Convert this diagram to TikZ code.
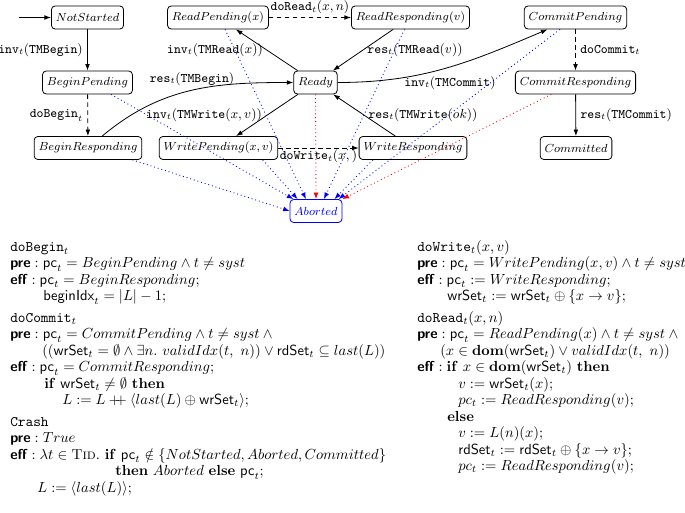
\documentclass[tikz,border=0pt]{standalone}
\usepackage{amsmath,amssymb}
\usetikzlibrary{arrows.meta,calc}
\newcommand{\kwpre}{\textsf{\textbf{pre}}}
\newcommand{\kweff}{\textsf{\textbf{eff}}}
\begin{document}
\begin{tikzpicture}[x=0.685pt,y=-0.685pt,
 st/.style={draw, rounded corners=2.5pt, line width=0.55pt, inner xsep=3pt, inner ysep=0pt, minimum height=15.75pt, font=\fontsize{8.35}{10}\selectfont},
 lab/.style={inner sep=1pt, font=\fontsize{9.1}{11}\selectfont},
 tr/.style={draw, line width=0.55pt, -{Latex[length=4.5pt,width=3.2pt]}},
 dtr/.style={tr, dash pattern=on 3pt off 2.5pt},
 blueab/.style={draw=blue, dotted, line width=0.6pt, -{Latex[length=4.5pt,width=3.4pt]}},
 redab/.style={blueab, draw=red},
 code/.style={anchor=base west, inner sep=0pt, font=\fontsize{9.85}{12}\selectfont}]
\useasboundingbox (0,0) rectangle (685,513);
% states
\node[st] (ns) at (87.5,17.5) {$NotStarted$};
\node[st] (bp) at (87.5,82.5) {$BeginPending$};
\node[st] (br) at (88,148) {$BeginResponding$};
\node[st] (rp) at (218,17.5) {$ReadPending(x)$};
\node[st] (rr) at (410.5,17.5) {$ReadResponding(v)$};
\node[st] (rd) at (315.5,82.5) {$Ready$};
\node[st] (wp) at (218.5,148) {$WritePending(x,v)$};
\node[st] (wr) at (413,148) {$WriteResponding$};
\node[st] (cp) at (575.5,17.5) {$CommitPending$};
\node[st] (cr) at (575.5,82.5) {$CommitResponding$};
\node[st] (cm) at (576,148) {$Committed$};
\node[st, draw=blue, text=blue] (abt) at (316,211) {$Aborted$};
% transitions
\coordinate (st0) at (19,17.5);
\draw[tr] (st0) -- (ns);
\draw[tr] (ns) -- node[lab,left=2pt] (l1) {$\mathtt{inv}_t(\mathtt{TMBegin})$} (bp);
\draw[dtr] (bp) -- node[lab,left=2pt] (l2) {$\mathtt{doBegin}_t$} (br);
\draw[tr] (br) to[out=40,in=180] (rd);
\draw[tr] (rd) -- (rp);
\draw[dtr] (rp) -- node[lab,above=1pt] (l5) {$\mathtt{doRead}_t(x,n)$} (rr);
\draw[tr] (rr) -- (rd);
\draw[tr] (rd) -- (wp);
\draw[dtr] (wp) -- node[lab,below=0pt] (l8) {$\mathtt{doWrite}_t(x,)$} (wr);
\draw[tr] (wr) -- (rd);
\draw[tr] (rd) to[out=0,in=203] (cp);
\draw[dtr] (cp) -- node[lab,right=2pt] (l11) {$\mathtt{doCommit}_t$} (cr);
\draw[tr] (cr) -- node[lab,right=2pt] (l12) {$\mathtt{res}_t(\mathtt{TMCommit})$} (cm);
% diagonal labels
\node[lab] (l3) at (192,79) {$\mathtt{res}_t(\mathtt{TMBegin})$};
\node[lab] (l4) at (215,50) {$\mathtt{inv}_t(\mathtt{TMRead}(x))$};
\node[lab] (l6) at (415,50) {$\mathtt{res}_t(\mathtt{TMRead}(v))$};
\node[lab] (l7) at (204,115) {$\mathtt{inv}_t(\mathtt{TMWrite}(x,v))$};
\node[lab] (l9) at (423,115) {$\mathtt{res}_t(\mathtt{TMWrite}(ok))$};
\node[lab] (l10) at (450,83) {$\mathtt{inv}_t(\mathtt{TMCommit})$};
% aborts
\draw[blueab] ($(br.south west)!0.91!(br.south east)$) -- (abt.west);
\draw[blueab] ($(bp.south west)!0.76!(bp.south east)$) -- ($(abt.north west)!0.07!(abt.north east)$);
\draw[blueab] ($(wp.south west)!0.87!(wp.south east)$) -- ($(abt.north west)!0.15!(abt.north east)$);
\draw[blueab] ($(rp.south west)!0.57!(rp.south east)$) -- ($(abt.north west)!0.31!(abt.north east)$);
\draw[redab] (rd.south) -- (abt.north);
\draw[blueab] ($(rr.south west)!0.45!(rr.south east)$) -- ($(abt.north west)!0.65!(abt.north east)$);
\draw[blueab] ($(wr.south west)!0.13!(wr.south east)$) -- ($(abt.north west)!0.85!(abt.north east)$);
\draw[blueab] ($(cp.south west)!0.35!(cp.south east)$) -- ($(abt.north west)!0.93!(abt.north east)$);
\draw[redab] ($(cr.south west)!0.3!(cr.south east)$) -- (abt.north east);
% left column
\node[code] (a1) at (10,251) {$\mathtt{doBegin}_t$};
\node[code] (a2) at (10,267.5) {$\kwpre : \mathsf{pc}_t = BeginPending \land t \neq syst$};
\node[code] (a3) at (10,284) {$\kweff : \mathsf{pc}_t = BeginResponding;$};
\node[code] (a4) at (43,300.5) {$\mathsf{beginIdx}_t = |L| - 1;$};
\node[code] (a5) at (10,322) {$\mathtt{doCommit}_t$};
\node[code] (a6) at (10,338.5) {$\kwpre : \mathsf{pc}_t = CommitPending \land t \neq syst \land{}$};
\node[code] (a7) at (42,355) {$((\mathsf{wrSet}_t = \emptyset \land \exists n.\ validIdx(t,\ n)) \lor \mathsf{rdSet}_t \subseteq last(L))$};
\node[code] (a8) at (10,371.5) {$\kweff : \mathsf{pc}_t = CommitResponding;$};
\node[code] (a9) at (44,388) {$\mathbf{if}\ \mathsf{wrSet}_t \neq \emptyset\ \mathbf{then}$};
\node[code] (a10) at (62,404.5) {$L := L \mathbin{+\!\!+} \langle last(L) \oplus \mathsf{wrSet}_t\rangle;$};
\node[code] (a11) at (10,426) {$\mathtt{Crash}$};
\node[code] (a12) at (10,442.5) {$\kwpre : True$};
\node[code] (a13) at (10,459) {$\kweff : \lambda t \in \textsc{Tid}.\ \mathbf{if}\ \mathsf{pc}_t \notin \{NotStarted, Aborted, Committed\}$};
\node[code] (a14) at (115,475.5) {$\mathbf{then}\ Aborted\ \mathbf{else}\ \mathsf{pc}_t;$};
\node[code] (a15) at (37,492) {$L := \langle last(L)\rangle;$};
% right column
\node[code] (b1) at (417,251) {$\mathtt{doWrite}_t(x,v)$};
\node[code] (b2) at (417,267.5) {$\kwpre : \mathsf{pc}_t = WritePending(x,v) \land t \neq syst$};
\node[code] (b3) at (417,284) {$\kweff : \mathsf{pc}_t := WriteResponding;$};
\node[code] (b4) at (447,300.5) {$\mathsf{wrSet}_t := \mathsf{wrSet}_t \oplus \{x \rightarrow v\};$};
\node[code] (b5) at (417,322) {$\mathtt{doRead}_t(x,n)$};
\node[code] (b6) at (417,338.5) {$\kwpre : \mathsf{pc}_t = ReadPending(x) \land t \neq syst \land{}$};
\node[code] (b7) at (440,355) {$(x \in \mathbf{dom}(\mathsf{wrSet}_t) \lor validIdx(t,\ n))$};
\node[code] (b8) at (417,371.5) {$\kweff : \mathbf{if}\ x \in \mathbf{dom}(\mathsf{wrSet}_t)\ \mathbf{then}$};
\node[code] (b9) at (458,388) {$v := \mathsf{wrSet}_t(x);$};
\node[code] (b10) at (458,404.5) {$pc_t := ReadResponding(v);$};
\node[code] (b11) at (447,421) {$\mathbf{else}$};
\node[code] (b12) at (458,437.5) {$v := L(n)(x);$};
\node[code] (b13) at (458,454) {$\mathsf{rdSet}_t := \mathsf{rdSet}_t \oplus \{x \rightarrow v\};$};
\node[code] (b14) at (458,470.5) {$pc_t := ReadResponding(v);$};
\end{tikzpicture}
\end{document}
